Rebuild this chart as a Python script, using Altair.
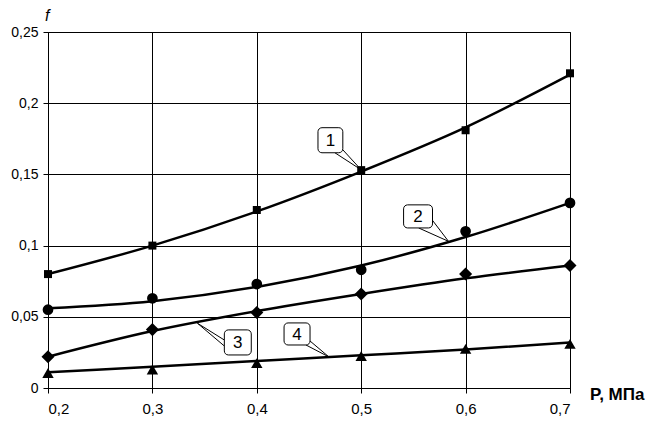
import altair as alt
import pandas as pd

# ---- data ----
P = [0.2, 0.3, 0.4, 0.5, 0.6, 0.7]
series = ["1", "2", "3", "4"]
# measured points (markers)
f1 = [0.080, 0.100, 0.125, 0.153, 0.181, 0.221]
f2 = [0.055, 0.063, 0.073, 0.083, 0.110, 0.130]
f3 = [0.022, 0.041, 0.053, 0.066, 0.080, 0.086]
f4 = [0.0105, 0.013, 0.0175, 0.0225, 0.0275, 0.031]
# smooth trend curves
t1 = [0.080, 0.100, 0.124, 0.152, 0.183, 0.220]
t2 = [0.056, 0.061, 0.071, 0.086, 0.106, 0.130]
t3 = [0.022, 0.040, 0.054, 0.066, 0.077, 0.086]
t4 = [0.011, 0.015, 0.019, 0.023, 0.027, 0.032]

shapes = ["square", "circle", "diamond", "triangle-up"]
sizes = [64, 115, 170, 130]

x_ticks = [0.2, 0.3, 0.4, 0.5, 0.6, 0.7]
y_ticks = [0, 0.05, 0.1, 0.15, 0.2, 0.25]

# callout boxes (data coordinates)
box_label = ["1", "2", "3", "4"]
box_x1 = [0.4586, 0.5406, 0.3689, 0.4261]
box_x2 = [0.4824, 0.5683, 0.3947, 0.4510]
box_y1 = [0.1652, 0.1124, 0.0232, 0.0302]
box_y2 = [0.1828, 0.1286, 0.0408, 0.0457]
# callout tails: two lines from the box to a point on the curve
tail_ax = [0.4748, 0.5550, 0.3689, 0.4471]
tail_ay = [0.1652, 0.1124, 0.0337, 0.0302]
tail_bx = [0.4815, 0.5680, 0.3689, 0.4510]
tail_by = [0.1680, 0.1180, 0.0295, 0.0330]
tail_ex = [0.5000, 0.5836, 0.3431, 0.4691]
tail_ey = [0.1532, 0.1030, 0.0455, 0.0218]

FONT = "Liberation Sans"

# ---- tables ----
trend = pd.DataFrame({
    "P": P * 4,
    "f": t1 + t2 + t3 + t4,
    "s": sum([[s] * len(P) for s in series], []),
})
pts = pd.DataFrame({
    "P": P * 4,
    "f": f1 + f2 + f3 + f4,
    "s": sum([[s] * len(P) for s in series], []),
    "sz": sum([[z] * len(P) for z in sizes], []),
})
boxes = pd.DataFrame({
    "lab": box_label, "x1": box_x1, "x2": box_x2, "y1": box_y1, "y2": box_y2,
})
boxes["xc"] = (boxes["x1"] + boxes["x2"]) / 2
boxes["yc"] = (boxes["y1"] + boxes["y2"]) / 2
tails = pd.DataFrame({
    "x": tail_ax + tail_bx,
    "y": tail_ay + tail_by,
    "x2": tail_ex + tail_ex,
    "y2": tail_ey + tail_ey,
})

xs = alt.Scale(domain=[0.2, 0.7], nice=False, zero=False)
ys = alt.Scale(domain=[0, 0.25], nice=False, zero=False)

x_axis = alt.Axis(
    values=x_ticks, title=None, grid=True,
    labelExpr="replace(format(datum.value, '.1f'), '.', ',')",
    labelPadding=8, labelFontSize=15,
)
y_axis = alt.Axis(
    values=y_ticks, title=None, grid=True,
    labelExpr="replace(toString(datum.value), '.', ',')",
    labelPadding=5, labelFontSize=14,
)

lines = alt.Chart(trend).mark_line(
    interpolate="monotone", color="black", strokeWidth=2.5
).encode(
    x=alt.X("P:Q", scale=xs, axis=x_axis),
    y=alt.Y("f:Q", scale=ys, axis=y_axis),
    detail="s:N",
)

points = alt.Chart(pts).mark_point(
    filled=True, color="black", opacity=1
).encode(
    x=alt.X("P:Q", scale=xs),
    y=alt.Y("f:Q", scale=ys),
    shape=alt.Shape("s:N", scale=alt.Scale(domain=series, range=shapes), legend=None),
    size=alt.Size("sz:Q", scale=None),
)

tail_rules = alt.Chart(tails).mark_rule(color="black", strokeWidth=1).encode(
    x=alt.X("x:Q", scale=xs), y=alt.Y("y:Q", scale=ys),
    x2="x2:Q", y2="y2:Q",
)

box_rects = alt.Chart(boxes).mark_rect(
    fill="white", stroke="black", strokeWidth=1, cornerRadius=4
).encode(
    x=alt.X("x1:Q", scale=xs), x2="x2:Q",
    y=alt.Y("y1:Q", scale=ys), y2="y2:Q",
)

box_text = alt.Chart(boxes).mark_text(
    font=FONT, fontSize=17, color="black", baseline="middle", align="center", dy=1
).encode(
    x=alt.X("xc:Q", scale=xs), y=alt.Y("yc:Q", scale=ys), text="lab:N",
)

f_title = alt.Chart(pd.DataFrame({"t": ["f"]})).mark_text(
    font=FONT, fontSize=16, fontStyle="italic", color="black", align="left",
    baseline="top",
).encode(x=alt.value(-3), y=alt.value(-24), text="t:N")

p_title = alt.Chart(pd.DataFrame({"t": ["P, МПа"]})).mark_text(
    font=FONT, fontSize=17, fontWeight="bold", color="black", align="left",
    baseline="middle",
).encode(x=alt.value(542), y=alt.value(363), text="t:N")

chart = alt.layer(
    lines, points, tail_rules, box_rects, box_text, f_title, p_title
).properties(
    width=522, height=356,
    autosize=alt.AutoSizeParams(type="none"),
    padding={"left": 40, "top": 24, "right": 84, "bottom": 29},
).configure_view(
    stroke="black", strokeWidth=1,
).configure_axis(
    domainColor="black", tickColor="black", gridColor="black", gridOpacity=1,
    gridWidth=1, domainWidth=1, tickWidth=1, tickSize=5,
    labelColor="black", labelFont=FONT,
)

chart.save("out.html", embed_options={"renderer": "svg", "actions": False})
